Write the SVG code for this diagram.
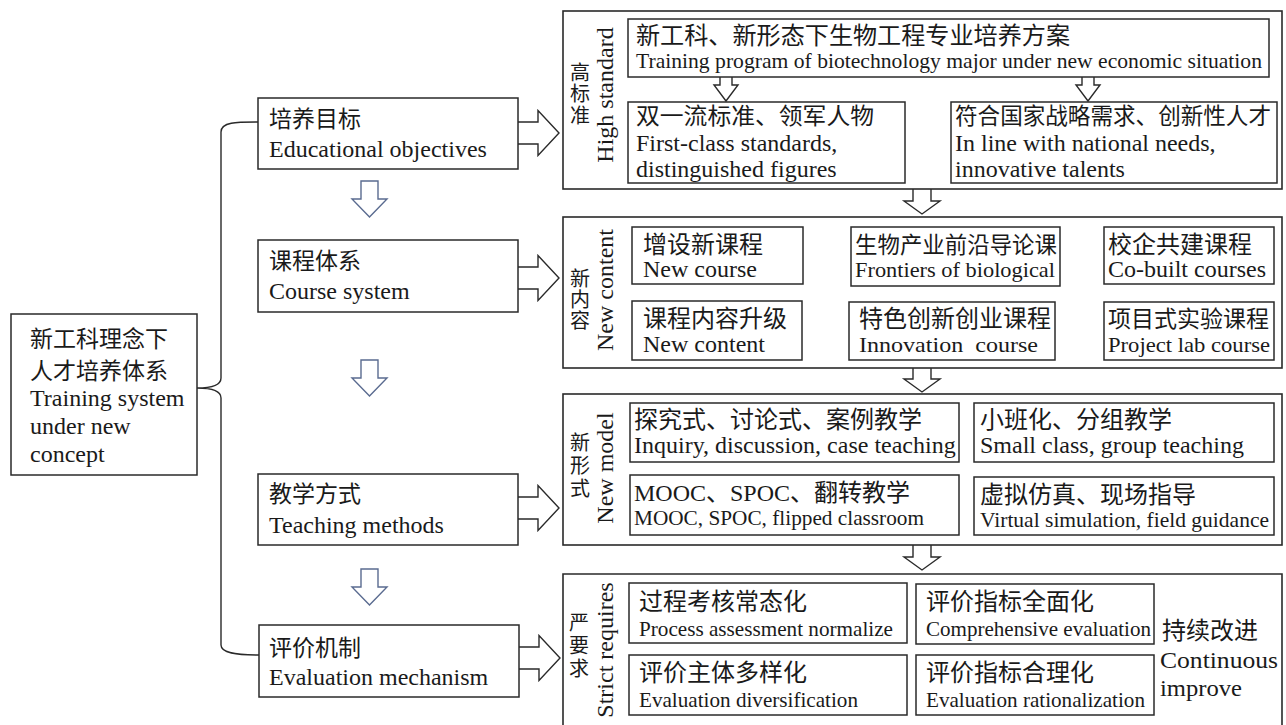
<svg xmlns="http://www.w3.org/2000/svg" width="1286" height="725" viewBox="0 0 1286 725">
<style>
.bg{fill:#fff}
.box{fill:none;stroke:#2a2a2a;stroke-width:1.5}
.panel{fill:none;stroke:#2a2a2a;stroke-width:1.6}
.cn{font-family:"Liberation Serif","Noto Sans CJK SC",sans-serif;font-size:23px;fill:#1a1a1a}
.cp{font-family:"Liberation Serif","Noto Sans CJK SC",sans-serif;font-size:24px;fill:#1a1a1a}
.vl{font-family:"Noto Sans CJK SC",sans-serif;font-size:20px;fill:#1a1a1a;writing-mode:vertical-rl}
.en{font-family:"Liberation Serif",serif;font-size:24px;fill:#1a1a1a}
.ec{font-family:"Liberation Serif",serif;font-size:22px;fill:#1a1a1a}
.rot{font-family:"Liberation Serif",serif;font-size:24px;fill:#1a1a1a;text-anchor:middle}
.arr{fill:#fff;stroke:#2a2a2a;stroke-width:1.4;stroke-linejoin:miter}
.barr{fill:#fff;stroke:#5a6b90;stroke-width:1.4}
.brace{fill:none;stroke:#2a2a2a;stroke-width:1.4}
</style>
<rect class="bg" x="0" y="0" width="1286" height="725"/>

<g id="connectors">
  <path class="brace" d="M258,122 C236,122 221,122 221,132 L221,378 C221,386 210,388 197,388 C210,388 221,390 221,398 L221,645 C221,653 236,655 259,655"/>
  <polyline class="arr" points="518,122 538,122 538,110.5 559,133 538,155.5 538,144 518,144"/>
  <polyline class="arr" points="518,267 538,267 538,255.5 559,278 538,300.5 538,289 518,289"/>
  <polyline class="arr" points="518,497 538,497 538,485.5 559,508 538,530.5 538,519 518,519"/>
  <polyline class="arr" points="519,647 539,647 539,635.5 560,658 539,680.5 539,669 519,669"/>
  <polygon class="barr" points="361,181 378,181 378,199 387,199 369.5,217 352,199 361,199"/>
  <polygon class="barr" points="361,360 378,360 378,378 387,378 369.5,396 352,378 361,378"/>
  <polygon class="barr" points="361,569 378,569 378,587 387,587 369.5,605 352,587 361,587"/>
  <polyline class="arr" points="913,189 913,201 904,201 922,214 940,201 931,201 931,189"/>
  <polyline class="arr" points="913,368 913,379 904,379 922,392 940,379 931,379 931,368"/>
  <polyline class="arr" points="913,545 913,557 904,557 922,570 940,557 931,557 931,545"/>
  <polyline class="arr" points="720,77 720,85 714,85 726,101 738,85 732,85 732,77"/>
  <polyline class="arr" points="1082,77 1082,85 1076,85 1088,101 1100,85 1094,85 1094,77"/>
</g>

<g id="root">
  <rect class="box" x="11" y="314" width="186" height="161"/>
  <text class="cn" x="30" y="347">新工科理念下</text>
  <text class="cn" x="30" y="379">人才培养体系</text>
  <text class="en" x="30" y="406">Training system</text>
  <text class="en" x="30" y="434">under new</text>
  <text class="en" x="30" y="462">concept</text>
</g>

<g id="objectives">
  <rect class="box" x="258" y="98" width="260" height="71"/>
  <text class="cn" x="269" y="127">培养目标</text>
  <text class="en" x="269" y="157">Educational objectives</text>
</g>
<g id="course">
  <rect class="box" x="258" y="240" width="260" height="72"/>
  <text class="cn" x="269" y="269">课程体系</text>
  <text class="en" x="269" y="299">Course system</text>
</g>
<g id="teaching">
  <rect class="box" x="258" y="474" width="260" height="71"/>
  <text class="cn" x="269" y="502">教学方式</text>
  <text class="en" x="269" y="533">Teaching methods</text>
</g>
<g id="evaluation">
  <rect class="box" x="259" y="625" width="260" height="72"/>
  <text class="cn" x="269" y="656">评价机制</text>
  <text class="en" x="269" y="685">Evaluation mechanism</text>
</g>

<g id="panel-high-standard">
  <rect class="panel" x="563" y="11" width="719" height="178"/>
  <text class="vl" x="580" y="62" letter-spacing="1.5">高标准</text>
  <text class="rot" transform="translate(613,95) rotate(-90)">High standard</text>
  <rect class="box" x="628" y="19" width="641" height="58"/>
  <text class="cp" x="636" y="44" textLength="434" lengthAdjust="spacingAndGlyphs">新工科、新形态下生物工程专业培养方案</text>
  <text class="ec" x="636" y="68" textLength="626" lengthAdjust="spacingAndGlyphs">Training program of biotechnology major under new economic situation</text>
  <rect class="box" x="628" y="102" width="277" height="81"/>
  <text class="cn" x="636" y="124" textLength="238" lengthAdjust="spacingAndGlyphs">双一流标准、领军人物</text>
  <text class="en" x="636" y="151">First-class standards,</text>
  <text class="en" x="636" y="177">distinguished figures</text>
  <rect class="box" x="951" y="102" width="326" height="81"/>
  <text class="cn" x="955" y="124" textLength="316" lengthAdjust="spacingAndGlyphs">符合国家战略需求、创新性人才</text>
  <text class="en" x="955" y="151">In line with national needs,</text>
  <text class="en" x="955" y="177">innovative talents</text>
</g>

<g id="panel-new-content">
  <rect class="panel" x="563" y="217" width="719" height="151"/>
  <text class="vl" x="580" y="268" letter-spacing="1">新内容</text>
  <text class="rot" transform="translate(613,290) rotate(-90)">New content</text>
  <rect class="box" x="632" y="227" width="171" height="57"/>
  <text class="cp" x="643" y="253">增设新课程</text>
  <text class="en" x="643" y="277">New course</text>
  <rect class="box" x="851" y="227" width="209" height="59"/>
  <text class="cn" x="855" y="253" textLength="202" lengthAdjust="spacingAndGlyphs">生物产业前沿导论课</text>
  <text class="ec" x="855" y="277" textLength="200" lengthAdjust="spacingAndGlyphs">Frontiers of biological</text>
  <rect class="box" x="1104" y="227" width="170" height="57"/>
  <text class="cp" x="1108" y="253">校企共建课程</text>
  <text class="en" x="1108" y="277">Co-built courses</text>
  <rect class="box" x="632" y="301" width="170" height="59"/>
  <text class="cp" x="643" y="327">课程内容升级</text>
  <text class="en" x="643" y="352">New content</text>
  <rect class="box" x="849" y="302" width="206" height="58"/>
  <text class="cp" x="859" y="327">特色创新创业课程</text>
  <text class="ec" x="859" y="352" textLength="179" lengthAdjust="spacingAndGlyphs" xml:space="preserve">Innovation  course</text>
  <rect class="box" x="1104" y="302" width="170" height="58"/>
  <text class="cn" x="1108" y="327" textLength="161" lengthAdjust="spacingAndGlyphs">项目式实验课程</text>
  <text class="ec" x="1108" y="352" textLength="162" lengthAdjust="spacingAndGlyphs">Project lab course</text>
</g>

<g id="panel-new-model">
  <rect class="panel" x="563" y="394" width="719" height="151"/>
  <text class="vl" x="580" y="432" letter-spacing="3">新形式</text>
  <text class="rot" transform="translate(613,468) rotate(-90)">New model</text>
  <rect class="box" x="630" y="403" width="329" height="59"/>
  <text class="cp" x="634" y="428">探究式、讨论式、案例教学</text>
  <text class="en" x="634" y="453">Inquiry, discussion, case teaching</text>
  <rect class="box" x="974" y="403" width="300" height="59"/>
  <text class="cp" x="980" y="428">小班化、分组教学</text>
  <text class="en" x="980" y="453">Small class, group teaching</text>
  <rect class="box" x="630" y="475" width="329" height="60"/>
  <text class="cp" x="634" y="501">MOOC、SPOC、翻转教学</text>
  <text class="ec" x="634" y="525" textLength="290" lengthAdjust="spacingAndGlyphs">MOOC, SPOC, flipped classroom</text>
  <rect class="box" x="974" y="477" width="300" height="58"/>
  <text class="cp" x="980" y="503">虚拟仿真、现场指导</text>
  <text class="ec" x="980" y="527" textLength="289" lengthAdjust="spacingAndGlyphs">Virtual simulation, field guidance</text>
</g>

<g id="panel-strict">
  <path class="panel" d="M563,730 L563,574 L1282,574 L1282,730"/>
  <text class="vl" x="579" y="612" letter-spacing="3">严要求</text>
  <text class="rot" transform="translate(613,650) rotate(-90)">Strict requires</text>
  <rect class="box" x="629" y="583" width="278" height="60"/>
  <text class="cp" x="639" y="610">过程考核常态化</text>
  <text class="ec" x="639" y="636" textLength="254" lengthAdjust="spacingAndGlyphs">Process assessment normalize</text>
  <rect class="box" x="916" y="584" width="238" height="60"/>
  <text class="cp" x="926" y="610">评价指标全面化</text>
  <text class="ec" x="926" y="636" textLength="225" lengthAdjust="spacingAndGlyphs">Comprehensive evaluation</text>
  <rect class="box" x="629" y="655" width="278" height="60"/>
  <text class="cp" x="639" y="681">评价主体多样化</text>
  <text class="ec" x="639" y="707" textLength="219" lengthAdjust="spacingAndGlyphs">Evaluation diversification</text>
  <rect class="box" x="916" y="655" width="238" height="60"/>
  <text class="cp" x="926" y="681">评价指标合理化</text>
  <text class="ec" x="926" y="707" textLength="219" lengthAdjust="spacingAndGlyphs">Evaluation rationalization</text>
  <text class="cp" x="1162" y="639">持续改进</text>
  <text class="en" x="1160" y="668" textLength="118" lengthAdjust="spacingAndGlyphs">Continuous</text>
  <text class="en" x="1160" y="696" textLength="82" lengthAdjust="spacingAndGlyphs">improve</text>
</g>
</svg>
